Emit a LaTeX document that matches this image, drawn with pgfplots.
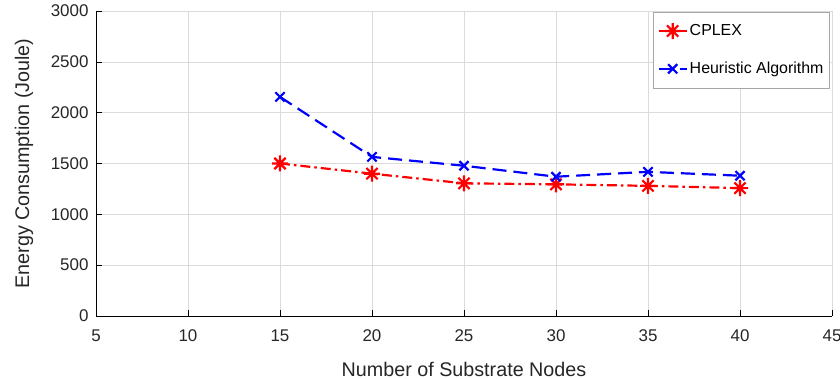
\documentclass[border=0pt]{standalone}
\usepackage{fontspec}
\setmainfont{Liberation Sans}
\usepackage{pgfplots}
\pgfplotsset{compat=1.18}
\pgfdeclareplotmark{mstar}{%
  \pgfpathmoveto{\pgfqpoint{0pt}{\pgfplotmarksize}}\pgfpathlineto{\pgfqpoint{0pt}{-\pgfplotmarksize}}%
  \pgfpathmoveto{\pgfqpoint{\pgfplotmarksize}{0pt}}\pgfpathlineto{\pgfqpoint{-\pgfplotmarksize}{0pt}}%
  \pgfpathmoveto{\pgfqpoint{0.707\pgfplotmarksize}{0.707\pgfplotmarksize}}\pgfpathlineto{\pgfqpoint{-0.707\pgfplotmarksize}{-0.707\pgfplotmarksize}}%
  \pgfpathmoveto{\pgfqpoint{0.707\pgfplotmarksize}{-0.707\pgfplotmarksize}}\pgfpathlineto{\pgfqpoint{-0.707\pgfplotmarksize}{0.707\pgfplotmarksize}}%
  \pgfusepathqstroke}
\begin{document}
\begin{tikzpicture}
\begin{axis}[
  scale only axis,
  width=736bp, height=305bp,
  xmin=5, xmax=45, ymin=0, ymax=3000,
  xtick={5,10,...,45}, ytick={0,500,...,3000},
  axis x line*=bottom, axis y line*=left,
  axis line style={black, line width=0.6pt},
  tick align=inside, major tick length=6bp,
  tick style={black, line width=0.6pt},
  grid=major, grid style={gray!28, line width=0.6pt},
  /pgf/number format/assume math mode=true,
  /pgf/number format/1000 sep={},
  tick label style={font=\fontsize{17}{20}\selectfont, color=black!85},
  xticklabel style={yshift=-10bp},
  yticklabel style={xshift=-4bp},
  xlabel={Number of Substrate Nodes}, ylabel={Energy Consumption (Joule)},
  label style={font=\fontsize{19.8}{23}\selectfont, color=black!85},
  xlabel style={at={(axis description cs:0.5,-0.174)}, anchor=center},
  ylabel style={at={(axis description cs:-0.0978,0.5)}, anchor=center},
  legend style={at={(0.997,0.997)}, anchor=north east, draw=gray!70, line width=0.6pt,
    font=\fontsize{16}{19}\selectfont, row sep=21bp, inner xsep=4bp, inner ysep=10.5bp,
    legend cell align=left},
  legend image code/.code={\draw[#1, mark repeat=2, mark phase=2] plot coordinates {(0bp,0bp) (14bp,0bp) (28bp,0bp)};},
]
\addplot[red, line width=2.2pt, dash pattern=on 10bp off 4bp on 2.5bp off 4bp, mark=mstar, mark size=8bp, mark options={solid, line width=2.2pt}]
  coordinates {(15,1500) (20,1400) (25,1305) (30,1295) (35,1280) (40,1258)};
\addlegendentry{CPLEX}
\addplot[blue, line width=2.2pt, dash pattern=on 14bp off 7bp, mark=x, mark size=6.5bp, mark options={solid, line width=2.2pt}]
  coordinates {(15,2155) (20,1565) (25,1478) (30,1370) (35,1418) (40,1380)};
\addlegendentry{Heuristic Algorithm}
\end{axis}
\pgfresetboundingbox
\path ([xshift=-96bp,yshift=-63bp]current axis.south west) rectangle ([xshift=8bp,yshift=11bp]current axis.north east);
\end{tikzpicture}
\end{document}
